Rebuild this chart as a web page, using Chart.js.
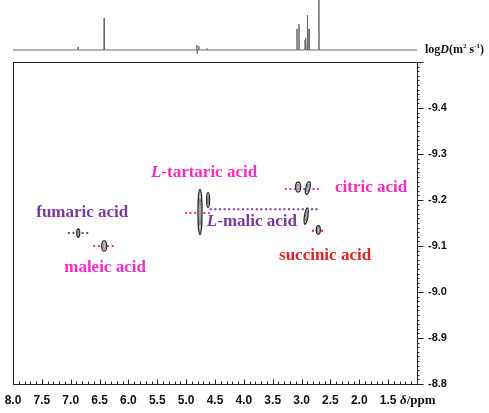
<!DOCTYPE html>
<html>
<head>
<meta charset="utf-8">
<script src="https://cdn.jsdelivr.net/npm/chart.js@4.4.1/dist/chart.umd.min.js"></script>
<style>
  html, body { margin: 0; padding: 0; background: #fff; }
  #wrap { position: relative; width: 489px; height: 413px; }
  #spec { position: absolute; left: 0; top: 0; }
  #dosy { position: absolute; left: 0; top: 60px; }
</style>
</head>
<body>
<div id="wrap">
  <canvas id="spec" width="489" height="60"></canvas>
  <canvas id="dosy" width="489" height="353"></canvas>
</div>
<script>
// 1H projection on top: chemical shift (ppm) and intensity
const projShift  = [6.87, 6.42, 4.815, 4.805, 4.78, 4.64, 3.08, 3.045, 2.94, 2.925, 2.90, 2.87, 2.70];
const projHeight = [3, 32, 5, -4, 4, 1.5, 21, 26, 10, 12, 35, 21, 70];

// DOSY cross peaks: shift, logD and half extents of the contour
const spotShift   = [6.87, 6.42, 4.76, 4.62, 3.06, 2.89, 2.92, 2.71];
const spotLogD    = [-9.128, -9.100, -9.174, -9.200, -9.228, -9.226, -9.165, -9.135];
const spotHalfPpm = [0.026, 0.043, 0.035, 0.026, 0.043, 0.035, 0.030, 0.035];
const spotHalfLogD = [0.009, 0.011, 0.049, 0.016, 0.011, 0.014, 0.018, 0.009];

// compounds and their logD guide lines
const compounds   = ['fumaric acid', 'maleic acid', 'L-tartaric acid', 'L-malic acid', 'citric acid', 'succinic acid'];
const compoundLogD = [-9.128, -9.100, -9.172, -9.180, -9.224, -9.133];
const guideFrom   = [7.05, 6.61, 5.02, 4.59, 3.29, 2.82];
const guideTo     = [6.67, 6.23, 4.59, 2.71, 2.65, 2.58];

// tick labels
const xTicks = [8.0, 7.5, 7.0, 6.5, 6.0, 5.5, 5.0, 4.5, 4.0, 3.5, 3.0, 2.5, 2.0, 1.5];
const yTicks = [-9.4, -9.3, -9.2, -9.1, -9.0, -8.9, -8.8];

const PINK = '#f22cc6', PURPLE = '#7b3a9e', RED = '#e5202b';
const compoundColor = [PURPLE, PINK, PINK, PURPLE, PINK, RED];
// label anchor (centre) in data coords
const labelAt = [[6.80, -9.172], [6.405, -9.054], [4.69, -9.259], [3.86, -9.152], [1.795, -9.228], [2.593, -9.080]];
// contour tilt (radians), drawing only
const spotTilt = [0, 0, 0, 0, 0, 0.22, 0.15, 0];

const SANS = '"Liberation Sans", Arial, sans-serif';
const SERIF = '"Liberation Serif", "Times New Roman", serif';

// ---------- top projection ----------
const projPoints = [{x: 8, y: 0}];
projShift.forEach((s, i) => {
  projPoints.push({x: s + 0.004, y: 0}, {x: s, y: projHeight[i]}, {x: s - 0.004, y: 0});
});
projPoints.push({x: 1, y: 0});

const logDLabel = {
  id: 'logDLabel',
  afterDraw(chart) {
    const ctx = chart.ctx;
    ctx.save();
    ctx.fillStyle = '#111';
    ctx.textBaseline = 'middle';
    let x = 425;
    const y = 50;
    const part = (t, font, dy) => {
      ctx.font = font;
      ctx.fillText(t, x, y + (dy || 0));
      x += ctx.measureText(t).width;
    };
    part('log', 'bold 12px ' + SERIF);
    part('D', 'italic bold 12px ' + SERIF);
    part('(m', 'bold 12px ' + SERIF);
    part('2', 'bold 7px ' + SERIF, -4);
    part(' s', 'bold 12px ' + SERIF);
    part('-1', 'bold 7px ' + SERIF, -4);
    part(')', 'bold 12px ' + SERIF);
    ctx.restore();
  }
};

new Chart(document.getElementById('spec').getContext('2d'), {
  type: 'scatter',
  data: {
    datasets: [{
      data: projPoints,
      showLine: true,
      borderColor: '#6a6a6a',
      borderWidth: 1,
      pointRadius: 0,
      tension: 0,
      clip: false
    }]
  },
  options: {
    responsive: false,
    animation: false,
    layout: { padding: { left: 13, right: 72, top: 0, bottom: 0 } },
    plugins: { legend: { display: false }, tooltip: { enabled: false } },
    scales: {
      x: { type: 'linear', min: 1, max: 8, reverse: true, display: false },
      y: { type: 'linear', min: -10, max: 50, display: false }
    }
  },
  plugins: [logDLabel]
});

// ---------- DOSY map ----------
const guideSets = compounds.map((c, i) => ({
  label: c,
  data: [{x: guideFrom[i], y: compoundLogD[i]}, {x: guideTo[i], y: compoundLogD[i]}],
  showLine: true,
  borderColor: compoundColor[i],
  borderWidth: 2,
  borderDash: [2, 2.6],
  pointRadius: 0
}));

const spots = {
  id: 'spots',
  afterDatasetsDraw(chart) {
    const {ctx, scales: {x, y}} = chart;
    ctx.save();
    spotShift.forEach((s, i) => {
      const cx = x.getPixelForValue(s);
      const cy = y.getPixelForValue(spotLogD[i]);
      const rx = Math.abs(x.getPixelForValue(s + spotHalfPpm[i]) - cx);
      const ry = Math.abs(y.getPixelForValue(spotLogD[i] + spotHalfLogD[i]) - cy);
      ctx.beginPath();
      ctx.ellipse(cx, cy, rx, ry, spotTilt[i], 0, Math.PI * 2);
      ctx.fillStyle = '#e4e4e4';
      ctx.fill();
      ctx.lineWidth = 1.3;
      ctx.strokeStyle = '#2a2a2a';
      ctx.stroke();
      ctx.beginPath();
      ctx.ellipse(cx, cy, rx * 0.45, ry * 0.6, spotTilt[i], 0, Math.PI * 2);
      ctx.lineWidth = 0.8;
      ctx.strokeStyle = '#666';
      ctx.stroke();
    });
    ctx.restore();
  }
};

const names = {
  id: 'names',
  afterDatasetsDraw(chart) {
    const {ctx, scales: {x, y}} = chart;
    ctx.save();
    ctx.textBaseline = 'middle';
    compounds.forEach((c, i) => {
      const italic = c.startsWith('L-');
      const head = italic ? 'L' : '';
      const rest = italic ? c.slice(1) : c;
      ctx.font = 'italic bold 17px ' + SERIF;
      const wh = ctx.measureText(head).width;
      ctx.font = 'bold 17px ' + SERIF;
      const wr = ctx.measureText(rest).width;
      let px = x.getPixelForValue(labelAt[i][0]) - (wh + wr) / 2;
      const py = y.getPixelForValue(labelAt[i][1]);
      ctx.fillStyle = compoundColor[i];
      if (head) {
        ctx.font = 'italic bold 17px ' + SERIF;
        ctx.fillText(head, px, py);
        px += wh;
      }
      ctx.font = 'bold 17px ' + SERIF;
      ctx.fillText(rest, px, py);
    });
    ctx.restore();
  }
};

const frame = {
  id: 'frame',
  afterDraw(chart) {
    const {ctx, chartArea: a, scales: {x, y}} = chart;
    const L = Math.round(a.left) + 0.5, R = Math.round(a.right) + 0.5;
    const T = Math.round(a.top) + 0.5, B = Math.round(a.bottom) + 0.5;
    ctx.save();
    ctx.strokeStyle = '#222';
    ctx.lineWidth = 1;
    ctx.strokeRect(L, T, R - L, B - T);
    ctx.beginPath();
    for (let k = 10; k <= 80; k++) {
      const px = Math.round(x.getPixelForValue(k / 10)) + 0.5;
      const len = k % 5 === 0 ? 5 : 3;
      ctx.moveTo(px, B);
      ctx.lineTo(px, B - len);
    }
    for (let k = -950; k <= -880; k++) {
      const py = Math.round(y.getPixelForValue(k / 100)) + 0.5;
      const len = k % 10 === 0 ? 6 : 2;
      ctx.moveTo(R, py);
      ctx.lineTo(R + len, py);
    }
    ctx.stroke();
    // axis title in the last tick slot
    ctx.fillStyle = '#111';
    ctx.textBaseline = 'middle';
    let tx = 400;
    const ty = B + 16;
    ctx.font = 'italic bold 13px ' + SERIF;
    ctx.fillText('\u03b4', tx, ty);
    tx += ctx.measureText('\u03b4').width;
    ctx.font = 'bold 13px ' + SERIF;
    ctx.fillText('/ppm', tx, ty);
    ctx.restore();
  }
};

new Chart(document.getElementById('dosy').getContext('2d'), {
  type: 'scatter',
  data: { datasets: guideSets },
  options: {
    responsive: false,
    animation: false,
    layout: { padding: { left: 13, right: 0, top: 2, bottom: 0 } },
    plugins: { legend: { display: false }, tooltip: { enabled: false } },
    scales: {
      x: {
        type: 'linear', min: 1, max: 8, reverse: true,
        grid: { display: false, drawTicks: false },
        border: { display: false },
        afterBuildTicks: s => { s.ticks = xTicks.map(v => ({value: v})); },
        afterFit: s => { s.height = 29; s.paddingLeft = 0; s.paddingRight = 0; },
        ticks: {
          autoSkip: false, maxRotation: 0, padding: 9, color: '#111',
          font: { family: SANS, size: 12, weight: 'bold' },
          callback: v => Number(v).toFixed(1)
        }
      },
      y: {
        type: 'linear', position: 'right', min: -9.5, max: -8.8, reverse: true,
        grid: { display: false, drawTicks: false },
        border: { display: false },
        afterBuildTicks: s => { s.ticks = yTicks.map(v => ({value: v})); },
        afterFit: s => { s.width = 72; s.paddingTop = 0; s.paddingBottom = 0; },
        ticks: {
          autoSkip: false, padding: 11, color: '#111',
          font: { family: SANS, size: 11, weight: 'bold' },
          callback: v => Number(v).toFixed(1)
        }
      }
    }
  },
  plugins: [spots, names, frame]
});
</script>
</body>
</html>
